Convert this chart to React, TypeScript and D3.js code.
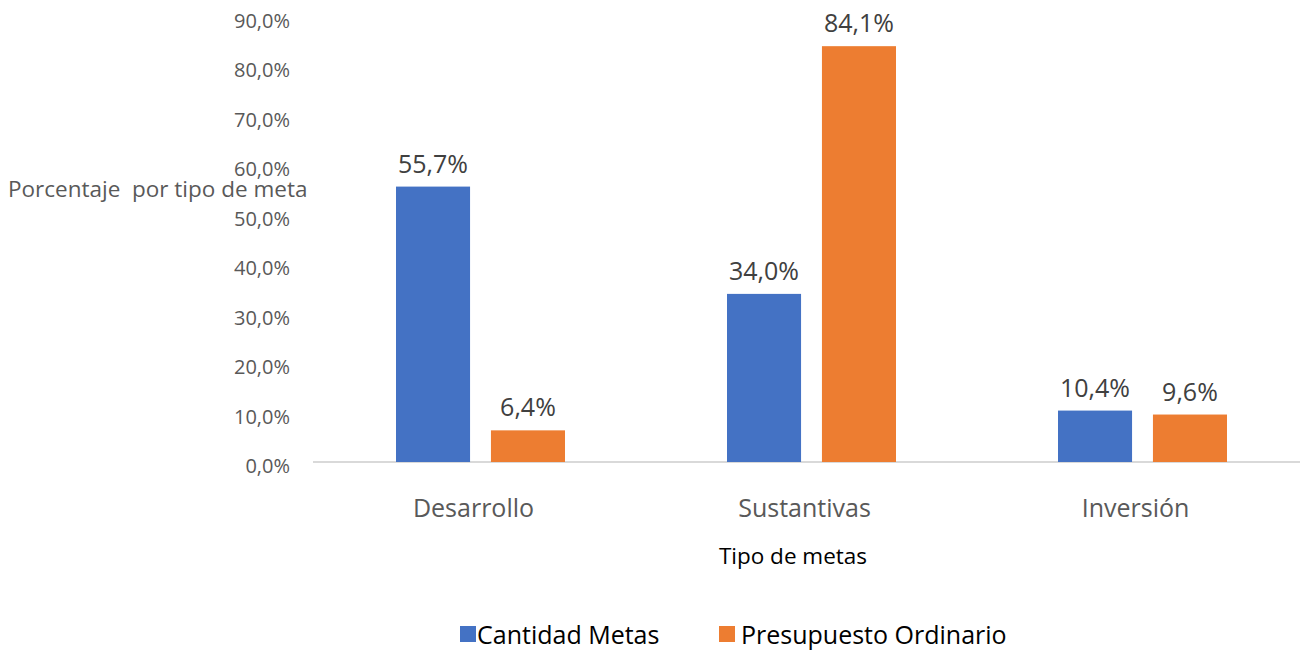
import React from "react";
import * as d3 from "d3";

const categories = ["Desarrollo", "Sustantivas", "Inversión"];
const seriesNames = ["Cantidad Metas", "Presupuesto Ordinario"];
const cantidadMetas = [55.7, 34.0, 10.4];
const presupuestoOrdinario = [6.4, 84.1, 9.6];
const yTicks = [0, 10, 20, 30, 40, 50, 60, 70, 80, 90];
const colors = ["#4472C4", "#ED7D31"];

const locale = d3.formatLocale({ decimal: ",", thousands: ".", grouping: [3], currency: ["", "€"] });
const fmt = locale.format(".1f");

export default function App() {
  const W = 1300, H = 650;
  const font = "'Open Sans', 'Noto Sans', sans-serif";
  const y = d3.scaleLinear().domain([0, 90]).range([462, 17]);
  const x0 = d3.scaleBand().domain(categories).range([315, 1308]);
  const groupW = 169;
  const x1 = d3.scaleBand().domain(seriesNames).range([0, groupW]).paddingInner(0.22);
  const values = [cantidadMetas, presupuestoOrdinario];
  const bw = x1.bandwidth();

  return (
    <svg width={W} height={H} style={{ position: "absolute", left: 0, top: 0, background: "#fff" }}>
      <rect x={0} y={0} width={W} height={H} fill="#fff" />
      {yTicks.map((t) => (
        <text key={t} x={290} y={y(t) + 4} dy="0.35em" textAnchor="end" fontFamily={font} fontSize={20} fill="#595959">
          {fmt(t) + "%"}
        </text>
      ))}
      <line x1={313} x2={1300} y1={y(0)} y2={y(0)} stroke="#D9D9D9" strokeWidth={2} />
      {categories.map((c, ci) => {
        const gx = x0(c)! + x0.bandwidth() / 2 - groupW / 2;
        return (
          <g key={c}>
            {seriesNames.map((s, si) => {
              const v = values[si][ci];
              const bx = gx + x1(s)!;
              return (
                <g key={s}>
                  <rect x={bx} y={y(v)} width={bw} height={y(0) - y(v)} fill={colors[si]} />
                  <text x={bx + bw / 2} y={y(v) - 14} textAnchor="middle" fontFamily={font} fontSize={25} fill="#404040">
                    {fmt(v) + "%"}
                  </text>
                </g>
              );
            })}
            <text x={x0(c)! + x0.bandwidth() / 2 - 7} y={517} textAnchor="middle" fontFamily={font} fontSize={25} fill="#595959">
              {c}
            </text>
          </g>
        );
      })}
      <text x={793} y={564} textAnchor="middle" fontFamily={font} fontSize={22.5} fill="#000">Tipo de metas</text>
      <text x={8} y={197} fontFamily={font} fontSize={22.5} fill="#595959" style={{ whiteSpace: "pre" }}>
        {"Porcentaje  por tipo de meta"}
      </text>
      <rect x={460} y={626} width={16} height={16} fill={colors[0]} />
      <text x={477} y={644} fontFamily={font} fontSize={25} fill="#000">{seriesNames[0]}</text>
      <rect x={719} y={626} width={16} height={16} fill={colors[1]} />
      <text x={741} y={644} fontFamily={font} fontSize={25} fill="#000">{seriesNames[1]}</text>
    </svg>
  );
}
